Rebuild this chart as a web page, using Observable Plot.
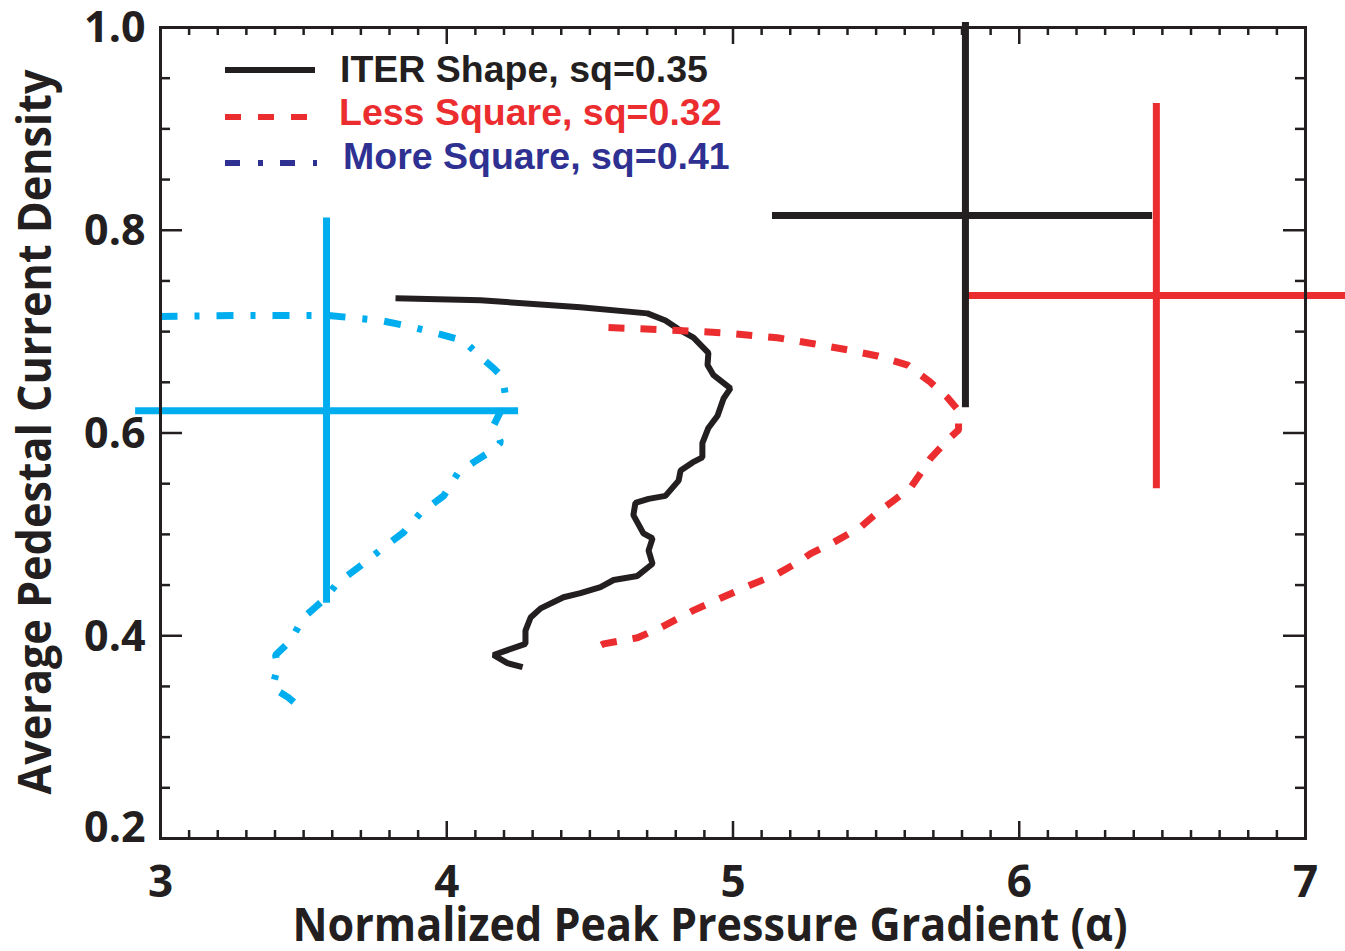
<!DOCTYPE html>
<html><head><meta charset="utf-8">
<script src="https://cdn.jsdelivr.net/npm/d3@7"></script>
<script src="https://cdn.jsdelivr.net/npm/@observablehq/plot@0.6"></script>
<style>html,body{margin:0;padding:0;background:#fff;}</style>
</head><body><div id="chart"></div>
<script>
// ---- data ----
const xTickValues = [3, 4, 5, 6, 7];
const yTickValues = [0.2, 0.4, 0.6, 0.8, 1.0];

const seriesNames = ["ITER Shape, sq=0.35", "Less Square, sq=0.32", "More Square, sq=0.41"];
const seriesColors = ["#231f20", "#ec2d2f", "#00aeef"];
const legendColors = ["#231f20", "#ec2d2f", "#2e3192"];

const iterX = [3.821,4.118,4.467,4.701,4.764,4.806,4.862,4.914,4.911,4.932,4.991,4.967,4.946,4.914,4.893,4.893,4.859,4.817,4.810,4.764,4.705,4.659,4.652,4.687,4.719,4.705,4.719,4.666,4.583,4.537,4.467,4.408,4.328,4.293,4.275,4.275,4.163,4.212,4.265];
const iterY = [0.733,0.731,0.724,0.718,0.711,0.703,0.694,0.679,0.667,0.657,0.644,0.634,0.617,0.605,0.590,0.576,0.571,0.563,0.553,0.538,0.535,0.531,0.519,0.501,0.496,0.484,0.471,0.459,0.455,0.448,0.442,0.438,0.427,0.418,0.405,0.392,0.381,0.373,0.369];

const lessX = [4.565,4.747,4.956,5.155,5.281,5.400,5.505,5.610,5.690,5.749,5.788,5.788,5.749,5.690,5.645,5.620,5.550,5.515,5.445,5.351,5.271,5.236,5.155,5.061,4.956,4.862,4.747,4.666,4.548,4.513];
const lessY = [0.704,0.702,0.699,0.694,0.688,0.682,0.676,0.667,0.650,0.635,0.622,0.603,0.593,0.575,0.556,0.546,0.531,0.524,0.507,0.492,0.481,0.474,0.461,0.450,0.437,0.425,0.408,0.398,0.392,0.387];

const moreX = [3.000,3.325,3.583,3.769,3.873,3.968,4.059,4.118,4.163,4.195,4.205,4.198,4.163,4.188,4.170,4.093,4.038,3.989,3.908,3.849,3.779,3.699,3.618,3.569,3.500,3.454,3.402,3.409,3.391,3.447,3.489];
const moreY = [0.715,0.716,0.716,0.711,0.705,0.698,0.691,0.675,0.664,0.655,0.637,0.627,0.607,0.591,0.585,0.571,0.560,0.538,0.521,0.502,0.487,0.469,0.452,0.435,0.418,0.395,0.381,0.369,0.349,0.339,0.329];

// error bars (cross markers): ITER, Less Square, More Square
const barX   = [5.812, 6.479, 3.580];
const barY   = [0.8145, 0.7356, 0.622];
const barXLo = [5.138, 5.812, 2.913];
const barXHi = [6.466, 7.146, 4.251];
const barYLo = [0.625, 0.545, 0.432];
const barYHi = [1.005, 0.925, 0.812];

// ---- build tables ----
const toPts = (xs, ys) => xs.map((x, i) => ({x, y: ys[i]}));
const iterPts = toPts(iterX, iterY);
const lessPts = toPts(lessX, lessY);
const morePts = toPts(moreX, moreY);
const bars = barX.map((x, i) => ({x, y: barY[i], xlo: barXLo[i], xhi: barXHi[i], ylo: barYLo[i], yhi: barYHi[i], c: seriesColors[i]}));

const W = 1345, H = 951;
const mL = 160, mR = 40, mT = 27, mB = 113;
const innerW = W - mL - mR, innerH = H - mT - mB;

const xMinor = d3.range(30, 71).filter(i => i % 10 !== 0).map(i => i / 10);
const yMinor = d3.range(4, 21).filter(i => i % 4 !== 0).map(i => i / 20);
const axisCol = "#231f20";
const numFont = "Open Sans";

const plot = Plot.plot({
  width: W, height: H,
  marginLeft: mL, marginRight: mR, marginTop: mT, marginBottom: mB,
  x: {domain: [3, 7], axis: null},
  y: {domain: [0.2, 1.0], axis: null},
  style: {background: "#fff", overflow: "visible"},
  marks: [
    // curves
    Plot.line(iterPts, {x: "x", y: "y", stroke: seriesColors[0], strokeWidth: 6, strokeLinejoin: "miter", strokeLinecap: "butt"}),
    Plot.line(lessPts, {x: "x", y: "y", stroke: seriesColors[1], strokeWidth: 7, strokeDasharray: "16,16", strokeLinecap: "butt", strokeLinejoin: "miter"}),
    Plot.line(morePts, {x: "x", y: "y", stroke: seriesColors[2], strokeWidth: 7, strokeDasharray: "17,17,5,17", strokeLinecap: "butt", strokeLinejoin: "miter"}),
    // error bars
    Plot.ruleY(bars, {y: "y", x1: "xlo", x2: "xhi", stroke: "c", strokeWidth: 7}),
    Plot.ruleX(bars, {x: "x", y1: "ylo", y2: "yhi", stroke: "c", strokeWidth: 7}),
    // frame
    Plot.frame({stroke: axisCol, strokeWidth: 3}),
    // x ticks bottom & top
    Plot.tickX(xTickValues, {x: d => d, insetTop: innerH - 17, stroke: axisCol, strokeWidth: 2.5}),
    Plot.tickX(xTickValues, {x: d => d, insetBottom: innerH - 17, stroke: axisCol, strokeWidth: 2.5}),
    Plot.tickX(xMinor, {x: d => d, insetTop: innerH - 8, stroke: axisCol, strokeWidth: 2.5}),
    Plot.tickX(xMinor, {x: d => d, insetBottom: innerH - 8, stroke: axisCol, strokeWidth: 2.5}),
    // y ticks left & right
    Plot.tickY(yTickValues, {y: d => d, insetRight: innerW - 22, stroke: axisCol, strokeWidth: 2.5}),
    Plot.tickY(yTickValues, {y: d => d, insetLeft: innerW - 22, stroke: axisCol, strokeWidth: 2.5}),
    Plot.tickY(yMinor, {y: d => d, insetRight: innerW - 10, stroke: axisCol, strokeWidth: 2.5}),
    Plot.tickY(yMinor, {y: d => d, insetLeft: innerW - 10, stroke: axisCol, strokeWidth: 2.5}),
    // tick labels
    Plot.text(xTickValues, {x: d => d, text: d => String(d), frameAnchor: "bottom", lineAnchor: "middle", dy: 44, fontSize: 44, fontWeight: "bold", fontFamily: numFont, fill: axisCol}),
    Plot.text(yTickValues.filter(v => v > 0.3), {y: d => d, text: d => d.toFixed(1), frameAnchor: "left", lineAnchor: "middle", textAnchor: "end", dx: -15, dy: 1, fontSize: 43, fontWeight: "bold", fontFamily: numFont, fill: axisCol}),
    Plot.text(yTickValues.filter(v => v < 0.3), {y: d => d, text: d => d.toFixed(1), frameAnchor: "left", lineAnchor: "middle", textAnchor: "end", dx: -15, dy: -10, fontSize: 43, fontWeight: "bold", fontFamily: numFont, fill: axisCol})
  ]
});

const svg = d3.select(plot);
// axis titles
svg.append("text")
  .attr("x", 710).attr("y", 941)
  .attr("text-anchor", "middle")
  .attr("font-family", numFont).attr("font-weight", "bold").attr("font-size", 46)
  .attr("fill", axisCol)
  .attr("textLength", 835).attr("lengthAdjust", "spacingAndGlyphs")
  .text("Normalized Peak Pressure Gradient (α)");
svg.append("text")
  .attr("transform", "translate(51,432) rotate(-90)")
  .attr("text-anchor", "middle")
  .attr("font-family", numFont).attr("font-weight", "bold").attr("font-size", 46)
  .attr("fill", axisCol)
  .attr("textLength", 725).attr("lengthAdjust", "spacingAndGlyphs")
  .text("Average Pedestal Current Density");

// legend
const legY = [70, 117, 163];
const legTextY = [82, 125, 169];
const legTextX = [340, 339, 343];
const legDash = [null, "16,17", "15,18,5,17"];
const legX2 = [315, 307, 317];
const lg = svg.append("g");
seriesNames.forEach((name, i) => {
  const ln = lg.append("line").attr("x1", 225).attr("x2", legX2[i]).attr("y1", legY[i]).attr("y2", legY[i])
    .attr("stroke", legendColors[i]).attr("stroke-width", 6);
  if (legDash[i]) ln.attr("stroke-dasharray", legDash[i]);
  lg.append("text").attr("x", legTextX[i]).attr("y", legTextY[i])
    .attr("text-anchor", "start")
    .attr("font-family", "Liberation Sans, Arial, sans-serif").attr("font-weight", "bold").attr("font-size", 37.5)
    .attr("fill", legendColors[i]).text(name);
});

document.getElementById("chart").appendChild(plot);
</script>
</body></html>
